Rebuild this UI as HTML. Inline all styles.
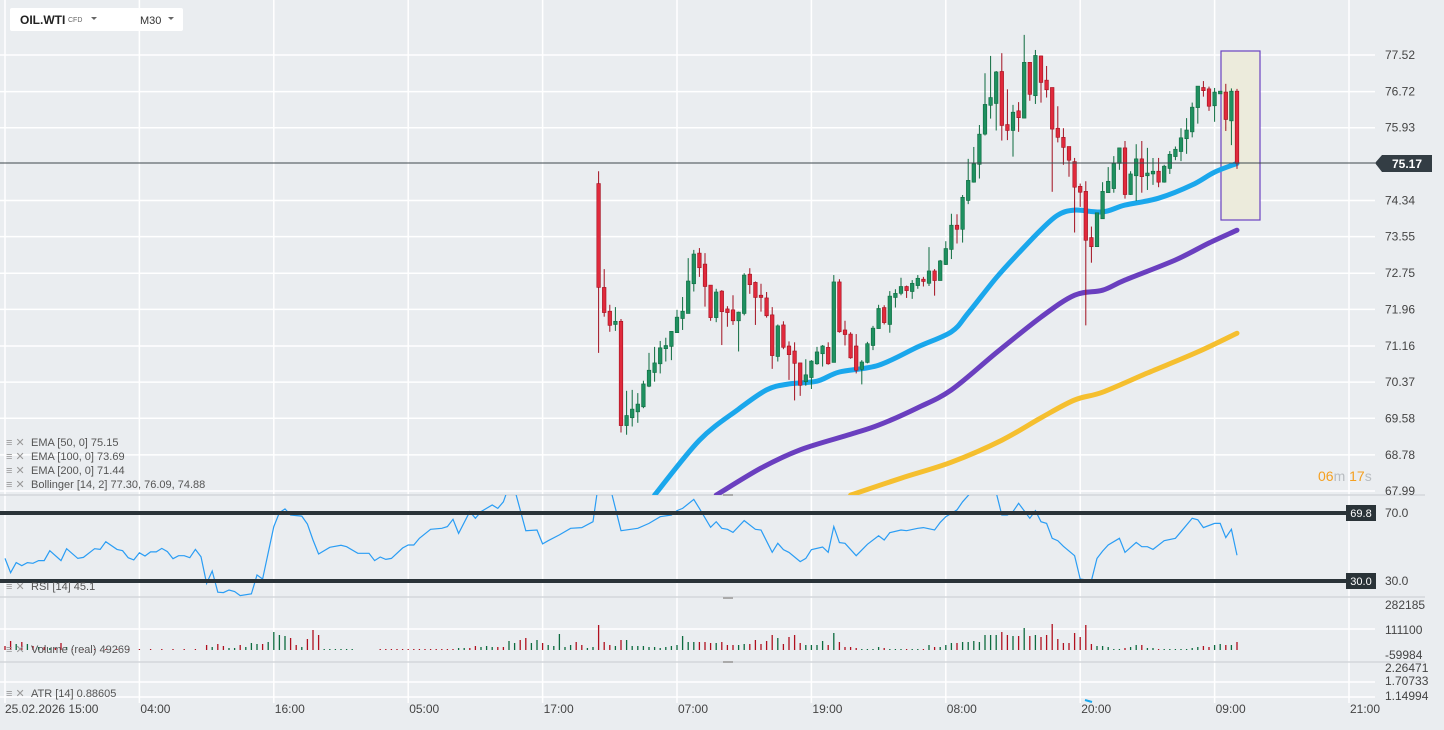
<!DOCTYPE html>
<html><head><meta charset="utf-8"><style>
html,body{margin:0;padding:0;background:#eaedf0;}
svg{display:block;font-family:"Liberation Sans",sans-serif;}
</style></head><body>
<svg id="chart" width="1444" height="730" viewBox="0 0 1444 730" xmlns="http://www.w3.org/2000/svg">
<defs>
<clipPath id="mainClip"><rect x="0" y="0" width="1375" height="495"/></clipPath>
<clipPath id="rsiClip"><rect x="0" y="495" width="1375" height="102"/></clipPath>
</defs>
<rect x="0" y="0" width="1444" height="730" fill="#eaedf0"/>
<g id="grid"></g>
<g id="sep">
<line x1="0" y1="495" x2="1425" y2="495" stroke="#d3d7db" stroke-width="1.5"/>
<line x1="0" y1="597" x2="1425" y2="597" stroke="#d3d7db" stroke-width="1.5"/>
<line x1="0" y1="662" x2="1425" y2="662" stroke="#d3d7db" stroke-width="1.5"/>
</g>
<rect x="1221" y="51" width="39" height="169" fill="#ecebdc" stroke="#6a43c0" stroke-width="1.2"/>
<g id="emas" clip-path="url(#mainClip)"></g>
<g id="candles" clip-path="url(#mainClip)"></g>
<line x1="0" y1="163" x2="1375" y2="163" stroke="#3d474d" stroke-width="1"/>
<g>
<polygon points="1375,163 1382,155 1432,155 1432,172 1382,172" fill="#333d44"/>
<text x="1407" y="168" fill="#fff" font-size="12" font-weight="bold" text-anchor="middle">75.17</text>
</g>
<g id="rsi" clip-path="url(#rsiClip)"></g>
<g>
<line x1="0" y1="513" x2="1347" y2="513" stroke="#2a3338" stroke-width="4"/>
<line x1="0" y1="581" x2="1347" y2="581" stroke="#2a3338" stroke-width="4"/>
<rect x="1346" y="505" width="30" height="16" fill="#2a3338"/>
<text x="1361" y="517" fill="#fff" font-size="11" text-anchor="middle">69.8</text>
<rect x="1346" y="573" width="30" height="16" fill="#2a3338"/>
<text x="1361" y="585" fill="#fff" font-size="11" text-anchor="middle">30.0</text>
</g>
<g id="vol"></g>
<path d="M1085,700 L1092,702" stroke="#1aa7ec" stroke-width="2" fill="none"/>
<g id="axes" font-size="12" fill="#444"></g>
<g font-size="11" fill="#555">
<g><text x="6" y="446" fill="#999">≡ ✕</text><text x="31" y="446">EMA  [50,  0]  75.15</text></g>
<g><text x="6" y="460" fill="#999">≡ ✕</text><text x="31" y="460">EMA  [100,  0]  73.69</text></g>
<g><text x="6" y="474" fill="#999">≡ ✕</text><text x="31" y="474">EMA  [200,  0]  71.44</text></g>
<g><text x="6" y="488" fill="#999">≡ ✕</text><text x="31" y="488">Bollinger   [14,  2]  77.30,  76.09,  74.88</text></g>
<g><text x="6" y="590" fill="#999">≡ ✕</text><text x="31" y="590">RSI  [14]  45.1</text></g>
<g><text x="6" y="653" fill="#999">≡ ✕</text><text x="31" y="653">Volume  (real)   49269</text></g>
<g><text x="6" y="697" fill="#999">≡ ✕</text><text x="31" y="697">ATR  [14]  0.88605</text></g>
</g>
<text x="1318" y="481" font-size="14"><tspan fill="#f5a020">06</tspan><tspan fill="#b8bcc0">m </tspan><tspan fill="#f5a020">17</tspan><tspan fill="#b8bcc0">s</tspan></text>
<g>
<rect x="10" y="8" width="173" height="23" rx="2" fill="#fff"/>
<text x="20" y="24" font-size="12" font-weight="bold" fill="#222">OIL.WTI</text>
<text x="68" y="22" font-size="7" fill="#666">CFD</text>
<path d="M91,17 L97,17 L94,20 Z" fill="#666"/>
<text x="140" y="24" font-size="11" fill="#333">M30</text>
<path d="M168,17 L174,17 L171,20 Z" fill="#666"/>
</g>
<rect x="723" y="494" width="10" height="2" fill="#aaa"/>
<rect x="723" y="597" width="10" height="2" fill="#aaa"/>
<rect x="723" y="661" width="10" height="2" fill="#aaa"/>
</svg>
<script>
const NS="http://www.w3.org/2000/svg";
const priceTicks=[77.52,76.72,75.93,74.34,73.55,72.75,71.96,71.16,70.37,69.58,68.78,67.99];
const timeLabels=["25.02.2026 15:00","04:00","16:00","05:00","17:00","07:00","19:00","08:00","20:00","09:00","21:00"];
const timeBars=[0,24,48,72,96,120,144,168,192,216,240];
const rsiTicks=[70.0,30.0];
const volTicks=["282185","111100","-59984"];
const atrTicks=["2.26471","1.70733","1.14994"];
const opens=[74.71,72.44,71.92,71.63,71.70,69.42,69.59,69.72,69.83,70.28,70.58,70.77,71.10,71.15,71.45,71.76,71.87,72.52,73.19,72.95,72.49,71.78,72.36,71.97,71.95,71.71,71.87,72.73,72.55,72.27,72.21,71.84,70.93,71.62,71.16,71.05,70.79,70.38,70.47,70.77,70.99,71.13,70.80,72.56,71.51,71.42,71.16,70.65,70.80,71.17,71.54,72.00,71.63,72.22,72.31,72.46,72.35,72.48,72.62,72.53,72.80,72.59,72.94,73.27,73.80,73.71,74.34,74.74,75.13,75.79,76.42,76.46,77.16,76.00,75.87,76.30,76.14,77.36,76.63,77.50,76.97,76.81,75.92,75.72,75.52,75.19,74.65,74.54,73.53,73.33,73.94,74.51,74.60,75.15,75.49,74.47,74.88,75.25,74.88,74.92,74.98,74.74,75.04,75.30,75.41,75.69,75.84,76.37,76.81,76.78,76.41,76.67,76.71,76.08,76.73];
const highs=[74.98,72.84,72.06,72.01,71.75,70.18,70.20,70.13,70.40,71.01,71.14,71.27,71.34,71.48,71.95,72.23,73.08,73.26,73.30,73.19,72.49,72.41,72.38,72.03,72.27,71.91,72.75,72.86,72.57,72.52,72.34,72.01,71.63,71.70,71.26,71.24,70.79,70.87,70.85,71.14,71.18,71.24,72.71,72.62,71.71,71.46,71.42,70.85,71.25,71.60,72.06,72.05,72.36,72.40,72.65,72.48,72.60,72.71,72.67,73.32,72.84,73.04,73.45,74.05,74.04,74.46,75.25,75.51,75.99,77.12,77.50,77.17,77.56,76.77,76.43,76.49,77.96,77.36,77.63,77.51,77.28,76.81,76.40,75.92,75.52,75.27,74.71,74.76,73.77,74.07,74.74,75.07,75.31,75.49,75.64,74.98,75.57,75.64,75.49,75.27,75.27,75.12,75.42,75.52,75.92,76.14,76.48,76.84,76.95,76.83,76.80,76.73,76.89,76.79,76.78];
const lows=[71.01,71.80,71.47,71.49,69.27,69.22,69.40,69.48,69.80,70.26,70.38,70.56,70.82,70.85,71.45,71.51,71.87,72.35,72.67,72.02,71.71,71.68,71.18,71.58,71.62,71.04,71.83,72.30,71.62,71.91,71.78,70.66,70.82,71.09,70.42,69.97,70.07,70.29,70.22,70.75,70.71,70.75,70.80,71.45,71.17,70.88,70.56,70.32,70.78,71.07,71.54,71.63,71.45,72.00,72.27,72.21,72.19,72.41,72.46,72.47,72.26,72.59,72.93,73.06,73.40,73.42,74.26,74.73,74.82,75.76,76.13,75.87,75.65,75.66,75.30,75.84,76.14,76.52,76.45,76.48,76.59,74.53,75.61,75.12,74.86,73.64,74.20,71.61,72.98,73.33,73.94,74.51,74.51,75.01,74.38,74.46,74.33,74.51,74.57,74.68,74.63,74.73,74.92,75.22,75.20,75.36,75.72,76.02,76.61,76.30,76.06,76.67,75.86,75.55,75.03];
const closes=[72.44,71.89,71.61,71.70,69.42,69.64,69.78,69.89,70.33,70.63,70.79,71.12,71.17,71.48,71.79,71.92,72.58,73.17,72.87,72.46,71.78,72.34,71.91,71.89,71.71,71.90,72.71,72.50,72.22,72.22,71.82,70.95,71.60,71.13,70.97,70.78,70.30,70.53,70.83,71.03,71.16,70.77,72.56,71.47,71.41,70.90,70.63,70.81,71.21,71.55,71.98,71.67,72.25,72.31,72.46,72.37,72.53,72.64,72.57,72.80,72.59,73.02,73.29,73.80,73.71,74.41,74.78,75.14,75.79,76.44,76.59,77.15,75.98,75.87,76.27,76.15,77.36,76.66,77.51,76.92,76.76,75.90,75.72,75.50,75.22,74.63,74.52,73.47,73.33,74.07,74.54,74.76,75.15,75.49,74.47,74.92,75.25,74.86,74.94,74.98,74.74,75.09,75.35,75.46,75.71,75.88,76.38,76.84,76.74,76.40,76.71,76.73,76.11,76.73,75.15];
const ema50Idx=[10,18,25,30,34,39,43,50,57,63,66,71,75,79,82,85,90,94,100,106,110,114];
const ema50=[67.90,69.10,69.78,70.20,70.33,70.39,70.59,70.74,71.14,71.47,71.88,72.65,73.19,73.70,74.02,74.13,74.09,74.24,74.39,74.68,74.96,75.15];
const ema100Idx=[21,29,36,45,50,57,63,71,79,85,90,94,103,109,114];
const ema100=[67.90,68.49,68.89,69.23,69.43,69.81,70.20,71.01,71.79,72.27,72.38,72.60,73.04,73.41,73.69];
const ema200Idx=[45,54,63,72,79,85,90,98,107,114];
const ema200=[67.90,68.27,68.62,69.10,69.59,69.98,70.15,70.57,71.03,71.44];
const rsiK=[0,1,2,3,4,5,6,7,8,10,11,13,14,16,17,18,20,21,22,23,24,25,26,27,28,29,30,31,32,33,34,35,36,37,38,39,40,41,42,44,45,46,48,49,50,51,53,54,55,56,58,60,61,63,65,66,67,68,69,71,72,73,74,76,78,79,80,81,83,84,85,87,88,89,90,91,93,95,96,97,99,101,103,105,106,107,108,110,113,115,117,119,120,121,123,124,126,127,128,129,130,132,134,135,137,138,139,140,142,143,144,146,147,148,149,150,152,154,156,157,158,160,161,163,164,166,167,168,170,171,173,175,177,178,179,180,181,183,184,185,186,187,188,189,191,192,194,195,196,197,199,200,202,203,204,205,207,209,210,212,213,214,216,217,218,219,220];
const rsiV=[43.3,34.9,40.8,39.0,40.8,40.4,42.0,42.0,47.8,42.0,49.0,43.3,43.9,49.0,48.6,53.1,48.6,47.8,43.7,42.4,46.6,44.7,47.1,47.1,49.2,47.3,43.1,44.9,44.9,43.7,48.6,44.3,28.6,35.9,23.4,23.2,24.7,23.8,21.4,22.4,33.5,31.2,62.0,70.2,72.4,68.8,68.2,63.5,54.1,45.9,49.8,51.0,50.2,46.3,46.3,42.0,44.1,42.7,43.3,49.4,51.2,51.2,55.1,60.4,61.0,62.0,66.3,58.0,70.8,66.9,70.8,74.7,72.7,76.6,86,84,59.6,60.0,51.8,53.7,57.1,61.0,61.4,64.9,88,92,86,59.6,61.0,63.9,67.8,68.8,71.4,72.7,78.0,72.7,61.6,64.9,61.0,60.4,58.6,65.5,60.4,60.0,46.9,52.2,48.4,46.8,41.4,43.3,48.4,50.0,46.9,62.0,52.6,52.2,44.9,51.6,56.6,54.1,58.4,60.0,59.6,61.0,61.4,60.0,64.5,67.8,71.8,76.6,84,86,82,68.8,68.8,70.8,75.7,66.9,71.4,64.9,63.9,55.1,53.7,50.4,44.9,31.2,30.2,43.3,47.6,51.2,55.1,46.8,52.7,50.2,50.2,48.6,53.7,55.1,59.0,66.9,66.0,61.4,63.9,63.9,55.5,60.4,45.1];
const volumes=[28,63,42,56,42,28,21,21,14,14,49,21,
7,0,7,0,7,0,7,0,7,0,7,0,7,0,7,0,7,0,7,0,7,0,7,0,
35,21,42,28,14,14,35,21,49,42,42,56,126,105,98,84,35,21,77,140,105,7,
7,7,7,7,7,0,0,0,0,7,7,7,7,7,7,7,7,7,7,7,7,7,7,
14,14,14,28,21,28,21,21,21,63,49,70,84,49,70,49,35,28,112,21,35,56,35,14,21,175,56,35,28,70,70,28,28,28,21,21,14,21,28,35,98,56,56,56,56,49,49,56,35,35,35,42,42,70,42,63,105,84,42,91,105,49,35,35,35,63,35,119,56,21,21,14,7,7,7,21,14,
7,7,7,7,7,7,7,
35,21,21,35,49,49,56,56,63,56,105,105,105,126,105,98,98,154,98,105,91,105,182,77,49,49,119,91,175,42,28,28,21,7,7,14,21,35,35,14,14,7,
7,7,7,7,7,
14,21,28,21,35,42,35,35,56];
const preDirs="ddududududdu"+"dudududududududududududu"+"dudduuduuuduuuuddudddu"+"uuuuuuuuu"+"dddddddddddddd"+"uudduuudduudduuduuuuudduu";

const FIRST=106;
const xk=k=>5+k*5.6;
const yP=p=>55+(77.52-p)*45.75;
const yR=r=>513+(70-r)*1.7;
const yV=v=>650-v/7;

function mk(tag,attrs,parent){const e=document.createElementNS(NS,tag);for(const a in attrs)e.setAttribute(a,attrs[a]);parent.appendChild(e);return e;}

const grid=document.getElementById('grid');
timeBars.forEach(b=>{
  const l=mk('line',{x1:xk(b),y1:0,x2:xk(b),y2:703,stroke:'#ffffff','stroke-width':1.5},grid);
  
  
});
priceTicks.forEach(p=>{
  const l=mk('line',{x1:0,y1:yP(p),x2:1375,y2:yP(p),stroke:'#ffffff','stroke-width':1.5},grid);
  
  
});
[629,682,697].forEach(y=>{
  const l=mk('line',{x1:0,y1:y,x2:1375,y2:y,stroke:'#ffffff','stroke-width':1.5},grid);
  
  
});

const emaG=document.getElementById('emas');
function smoothPath(pts){
  let d='M'+pts[0][0].toFixed(1)+','+pts[0][1].toFixed(1);
  for(let i=0;i<pts.length-1;i++){
    const p0=pts[Math.max(0,i-1)],p1=pts[i],p2=pts[i+1],p3=pts[Math.min(pts.length-1,i+2)];
    const c1=[p1[0]+(p2[0]-p0[0])/6,p1[1]+(p2[1]-p0[1])/6];
    const c2=[p2[0]-(p3[0]-p1[0])/6,p2[1]-(p3[1]-p1[1])/6];
    d+=' C'+c1[0].toFixed(1)+','+c1[1].toFixed(1)+' '+c2[0].toFixed(1)+','+c2[1].toFixed(1)+' '+p2[0].toFixed(1)+','+p2[1].toFixed(1);
  }
  return d;
}
function drawEma(idx,vals,color,name){
  const pts=idx.map((i,j)=>[xk(FIRST+i),yP(vals[j])]);
  const p=mk('path',{d:smoothPath(pts),fill:'none',stroke:color,'stroke-width':5,'stroke-linejoin':'round','stroke-linecap':'round'},emaG);
  
  
}
drawEma(ema200Idx,ema200,'#f5bf2f','ema-200-line');
drawEma(ema100Idx,ema100,'#6a3fbf','ema-100-line');
drawEma(ema50Idx,ema50,'#1aa7ec','ema-50-line');

const cg=document.getElementById('candles');
opens.forEach((o,i)=>{
  const c=closes[i],x=xk(FIRST+i),up=c>=o;
  const g=mk('g',{},cg);
  
  
  const dark=up?'#0d6b3f':'#a3101f',fill=up?'#1f9060':'#e02a3c';
  mk('line',{x1:x,y1:yP(highs[i]),x2:x,y2:yP(lows[i]),stroke:dark,'stroke-width':1},g);
  const top=yP(Math.max(o,c)),bot=yP(Math.min(o,c));
  mk('rect',{x:x-1.8,y:top,width:3.6,height:Math.max(1,bot-top),fill:fill,stroke:dark,'stroke-width':0.6},g);
});

const rg=document.getElementById('rsi');
const rd=rsiK.map((k,j)=>(j?'L':'M')+xk(k).toFixed(1)+','+yR(rsiV[j]).toFixed(1)).join(' ');
const rl=mk('path',{d:rd,fill:'none',stroke:'#2a9df4','stroke-width':1.2},rg);



const vg=document.getElementById('vol');
volumes.forEach((v,k)=>{
  if(!v)return;
  let up;
  if(k<FIRST)up=preDirs[k]==='u';else{const i=k-FIRST;up=closes[i]>=opens[i];}
  const x=xk(k);
  const b=mk('line',{x1:x,y1:650,x2:x,y2:yV(v),stroke:up?'#0d6b3f':'#b0101f','stroke-width':1.3},vg);
  
  
});

const ax=document.getElementById('axes');
priceTicks.forEach(p=>{
  const t=mk('text',{x:1385,y:yP(p)+4},ax);t.textContent=p.toFixed(2);
  
  
});
rsiTicks.forEach(r=>{
  const t=mk('text',{x:1385,y:yR(r)+4},ax);t.textContent=r.toFixed(1);
  
  
});
[605,630,655].forEach((y,j)=>{
  const t=mk('text',{x:1385,y:y+4},ax);t.textContent=volTicks[j];
  
  
});
[668,681,696].forEach((y,j)=>{
  const t=mk('text',{x:1385,y:y+4},ax);t.textContent=atrTicks[j];
  
  
});
timeLabels.forEach((s,j)=>{
  const t=mk('text',{x:xk(timeBars[j])+(j===0?0:1),y:713},ax);t.textContent=s;
  
  
});
</script>
</body></html>
